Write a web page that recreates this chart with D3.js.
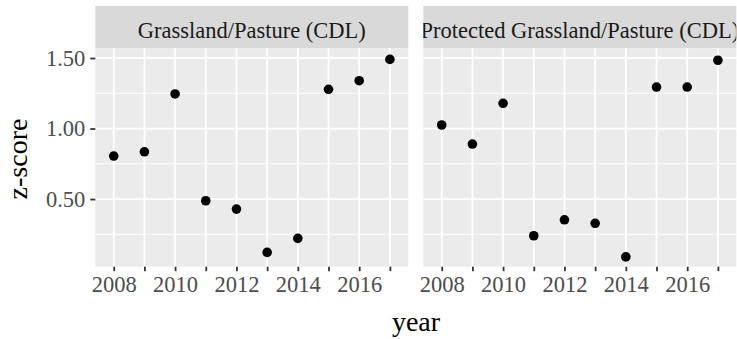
<!DOCTYPE html>
<html>
<head>
<meta charset="utf-8">
<script src="https://cdn.jsdelivr.net/npm/d3@7"></script>
<style>
  body { margin: 0; background: #fff; }
  svg { display: block; }
</style>
</head>
<body>
<div class="container"></div>
<script>
// data
var panels = ['Grassland/Pasture (CDL)', 'Protected Grassland/Pasture (CDL)']
var years = [2008, 2009, 2010, 2011, 2012, 2013, 2014, 2015, 2016, 2017]
var grassland = [0.805, 0.835, 1.245, 0.488, 0.429, 0.122, 0.221, 1.278, 1.339, 1.49]
var protectedGrass = [1.025, 0.89, 1.179, 0.24, 0.353, 0.328, 0.09, 1.294, 1.294, 1.484]
var yBreaks = [0.5, 1.0, 1.5]
var yMinor = [0.25, 0.75, 1.25]
var xLabels = [2008, 2010, 2012, 2014, 2016]

var series = [grassland, protectedGrass]

var w = 737, h = 339
var font = '"Liberation Serif", "Times New Roman", serif'

var svg = d3.select('.container')
    .append('svg')
    .attr('width', w)
    .attr('height', h)

svg.append('rect')
    .attr('width', '100%')
    .attr('height', '100%')
    .style('fill', '#fff')

// layout
var panelLeft = [95.3, 423.3]
var panelW = 313
var stripTop = 6, stripBot = 48.3, panelBot = 266.7

var y = d3.scaleLinear()
    .domain([0.0205, 1.5688])
    .range([panelBot, stripBot])

panels.forEach(function(name, p) {
    var x0 = panelLeft[p]
    var x = d3.scaleLinear()
        .domain([2007.4, 2017.6])
        .range([x0, x0 + panelW])

    var g = svg.append('g')

    // strip
    var clipId = 'clip' + p
    svg.append('clipPath').attr('id', clipId)
        .append('rect')
        .attr('x', x0).attr('y', stripTop)
        .attr('width', Math.min(panelW, w - x0)).attr('height', stripBot - stripTop)

    g.append('rect')
        .attr('x', x0).attr('y', stripTop)
        .attr('width', panelW).attr('height', stripBot - stripTop)
        .style('fill', '#d9d9d9')

    g.append('text')
        .attr('clip-path', 'url(#' + clipId + ')')
        .attr('x', x0 + panelW / 2)
        .attr('y', 37.5)
        .attr('text-anchor', 'middle')
        .style('font-family', font)
        .style('font-size', '22.5px')
        .style('fill', '#1a1a1a')
        .text(name)

    // panel background
    g.append('rect')
        .attr('x', x0).attr('y', stripBot)
        .attr('width', panelW).attr('height', panelBot - stripBot)
        .style('fill', '#ebebeb')

    // grid
    g.selectAll('.minor')
        .data(yMinor)
        .enter()
        .append('line')
        .attr('x1', x0).attr('x2', x0 + panelW)
        .attr('y1', d => y(d)).attr('y2', d => y(d))
        .style('stroke', '#fff')
        .style('stroke-width', 0.9)

    g.selectAll('.major')
        .data(yBreaks)
        .enter()
        .append('line')
        .attr('x1', x0).attr('x2', x0 + panelW)
        .attr('y1', d => y(d)).attr('y2', d => y(d))
        .style('stroke', '#fff')
        .style('stroke-width', 1.8)

    g.selectAll('.vgrid')
        .data(years)
        .enter()
        .append('line')
        .attr('x1', d => x(d)).attr('x2', d => x(d))
        .attr('y1', stripBot).attr('y2', panelBot)
        .style('stroke', '#fff')
        .style('stroke-width', 1.8)

    // x axis
    var xAxis = d3.axisBottom(x)
        .tickValues(years)
        .tickSize(4.5)
        .tickPadding(5)
        .tickFormat(d => xLabels.indexOf(d) >= 0 ? d : '')

    var ax = g.append('g')
        .attr('transform', 'translate(0,' + panelBot + ')')
        .call(xAxis)
    ax.select('.domain').remove()
    ax.selectAll('line').style('stroke', '#333').style('stroke-width', 1.8)
    ax.selectAll('text')
        .style('font-family', font)
        .style('font-size', '22.5px')
        .style('fill', '#4d4d4d')

    // points
    g.selectAll('.pt')
        .data(series[p])
        .enter()
        .append('circle')
        .attr('cx', (d, i) => x(years[i]))
        .attr('cy', d => y(d))
        .attr('r', 4.8)
        .style('fill', '#000')
})

// y axis on the left panel
var yAxis = d3.axisLeft(y)
    .tickValues(yBreaks)
    .tickSize(5)
    .tickPadding(5)
    .tickFormat(d3.format('.2f'))

var ay = svg.append('g')
    .attr('transform', 'translate(' + panelLeft[0] + ',0)')
    .call(yAxis)
ay.select('.domain').remove()
ay.selectAll('line').style('stroke', '#333').style('stroke-width', 1.8)
ay.selectAll('text')
    .style('font-family', font)
    .style('font-size', '22.5px')
    .style('fill', '#4d4d4d')

// axis titles
svg.append('text')
    .attr('x', 416)
    .attr('y', 331)
    .attr('text-anchor', 'middle')
    .style('font-family', font)
    .style('font-size', '28px')
    .style('fill', '#000')
    .text('year')

svg.append('text')
    .attr('transform', 'translate(26.5,159) rotate(-90)')
    .attr('text-anchor', 'middle')
    .style('font-family', font)
    .style('font-size', '28px')
    .style('fill', '#000')
    .text('z-score')
</script>
</body>
</html>
